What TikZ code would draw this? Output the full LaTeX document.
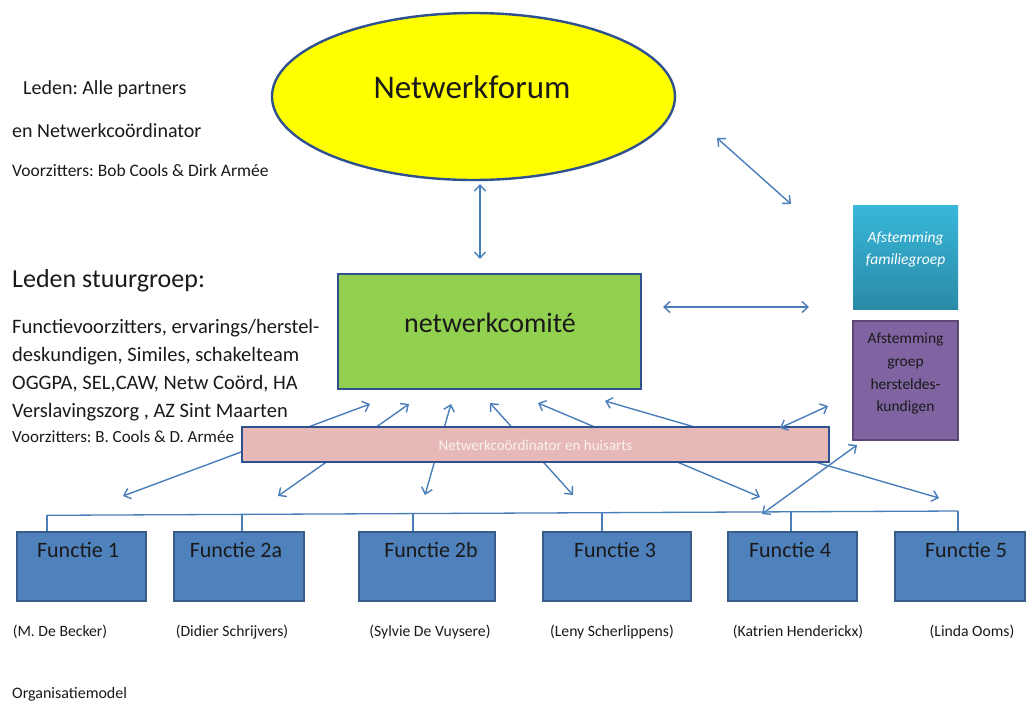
\documentclass[tikz,border=0pt]{standalone}
\usepackage{fontspec}
\setmainfont{Carlito}
\usetikzlibrary{shapes.geometric,arrows.meta}
\frenchspacing

\definecolor{linkblue}{HTML}{4A7EBB}
\definecolor{edgeblue}{HTML}{2F528F}
\definecolor{forumyellow}{HTML}{FFFF00}
\definecolor{comitegreen}{HTML}{92D050}
\definecolor{barpink}{HTML}{E6B9B8}
\definecolor{bartext}{HTML}{FBF1F1}
\definecolor{boxblue}{HTML}{4F81BD}
\definecolor{boxedge}{HTML}{385D8A}
\definecolor{famtop}{HTML}{38B7DA}
\definecolor{fambottom}{HTML}{2A8AA6}
\definecolor{herstelpurple}{HTML}{8064A2}
\definecolor{hersteledge}{HTML}{5C4776}
\definecolor{inktext}{HTML}{1A1A1A}

\newcommand{\setfs}[1]{\fontsize{#1}{#1}\selectfont}

\begin{document}
\begin{tikzpicture}[x=1pt,y=-1pt,
  link/.style={draw=linkblue, line width=1.4pt,
    {Straight Barb[length=6pt,width=11pt]}-{Straight Barb[length=6pt,width=11pt]}},
  stub/.style={draw=linkblue, line width=1.3pt},
  txt/.style={anchor=base west, inner sep=0pt, text=inktext},
  ctxt/.style={anchor=base, inner sep=0pt, text=inktext},
  functie/.style={draw=boxedge, fill=boxblue, line width=1.8pt,
    minimum height=69pt, inner sep=0pt},
  smallbox/.style={minimum width=105pt, inner sep=0pt},
]
% canvas
\fill[white] (0,0) rectangle (1029,702);
\useasboundingbox (0,0) rectangle (1029,702);

% ---------- forum ----------
\node[ellipse, draw=edgeblue, fill=forumyellow, line width=2.4pt,
      minimum width=403pt, minimum height=167pt, inner sep=0pt] (forum) at (473.5,96.5) {};
\node[ctxt, font=\setfs{33}] (forumtxt) at (472,98) {Netwerkforum};

% ---------- left-hand notes ----------
\node[txt, font=\setfs{20}] (leden) at (23,94) {Leden: Alle partners};
\node[txt, font=\setfs{20}] (ledenb) at (12,137) {en Netwerkcoördinator};
\node[txt, font=\setfs{17.5}] (vz1) at (12,176) {Voorzitters: Bob Cools \& Dirk Armée};

\node[txt, font=\setfs{26}] (stuur) at (12,287) {Leden stuurgroep:};
\node[txt, font=\setfs{20.5}] (st1) at (12,333) {Functievoorzitters, ervarings/herstel-};
\node[txt, font=\setfs{20.5}] (st2) at (12,361) {deskundigen, Similes, schakelteam};
\node[txt, font=\setfs{20.5}] (st3) at (12,389) {OGGPA, SEL,CAW, Netw Coörd, HA};
\node[txt, font=\setfs{20.5}] (st4) at (12,417) {Verslavingszorg , AZ Sint Maarten};
\node[txt, font=\setfs{17}] (vz2) at (12,442) {Voorzitters: B. Cools \& D. Armée};

% ---------- comité ----------
\node[draw=edgeblue, fill=comitegreen, line width=2.2pt,
      minimum width=303pt, minimum height=115pt, inner sep=0pt] (comite) at (489.5,331.5) {};
\node[ctxt, font=\setfs{28}] (comitetxt) at (490,332) {netwerkcomité};

% ---------- right-hand groups ----------
\node[smallbox, top color=famtop, bottom color=fambottom,
      minimum height=104pt] (familie) at (905.5,257) {};
\node[ctxt, text=white, font=\setfs{15.5}\itshape] (fam1) at (905.5,242) {Afstemming};
\node[ctxt, text=white, font=\setfs{15.5}\itshape] (fam2) at (905.5,264) {familiegroep};

\node[smallbox, draw=hersteledge, fill=herstelpurple, line width=1.6pt,
      minimum height=119pt] (herstel) at (905.5,380.5) {};
\node[ctxt, font=\setfs{15.5}] (h1) at (905.5,343) {Afstemming};
\node[ctxt, font=\setfs{15.5}] (h2) at (905.5,366) {groep};
\node[ctxt, font=\setfs{15.5}] (h3) at (905.5,389) {hersteldes-};
\node[ctxt, font=\setfs{15.5}] (h4) at (905.5,411) {kundigen};

% ---------- arrow end points ----------
\coordinate (fa) at (480,184);   \coordinate (fb) at (480,259);
\coordinate (ra) at (717,138);   \coordinate (rb) at (791,204);
\coordinate (ha) at (663,307);   \coordinate (hb) at (809,307);

\coordinate (u1) at (370,404);   \coordinate (d1) at (123,496);
\coordinate (u2) at (409,404);   \coordinate (d2) at (278,496);
\coordinate (u3) at (451,404);   \coordinate (d3) at (425,495);
\coordinate (u4) at (490,403);   \coordinate (d4) at (573,495);
\coordinate (u5) at (538,403);   \coordinate (d5) at (760,497);
\coordinate (u6) at (605,401);   \coordinate (d6) at (939,498);
\coordinate (u7) at (828,406);   \coordinate (d7) at (780,428);
\coordinate (u8) at (857,445);   \coordinate (d8) at (762,514);

\draw[link] (fa) -- (fb);
\draw[link] (ra) -- (rb);
\draw[link] (ha) -- (hb);

% arrows between the comité and the functions, passing behind the bar
\foreach \i in {1,...,6} {
  \draw[link] (u\i) -- (d\i);
}

% ---------- coordinator bar ----------
\node[draw=edgeblue, fill=barpink, line width=2.4pt,
      minimum width=587pt, minimum height=35pt, inner sep=0pt] (bar) at (535.5,444.5) {};
\node[ctxt, text=bartext, font=\setfs{15}] (bartxt) at (535.5,450) {Netwerkcoördinator en huisarts};

\draw[link] (u7) -- (d7);

% ---------- function boxes ----------
\node[functie, minimum width=129pt] (f1) at (81.5,566.5) {};
\node[functie, minimum width=130pt] (f2a) at (239,566.5) {};
\node[functie, minimum width=136pt] (f2b) at (427,566.5) {};
\node[functie, minimum width=148pt] (f3) at (617,566.5) {};
\node[functie, minimum width=129pt] (f4) at (792.5,566.5) {};
\node[functie, minimum width=130pt] (f5) at (960,566.5) {};

\node[ctxt, font=\setfs{22}] at (78,557) {Functie 1};
\node[ctxt, font=\setfs{22}] at (236,557) {Functie 2a};
\node[ctxt, font=\setfs{22}] at (431,557) {Functie 2b};
\node[ctxt, font=\setfs{22}] at (615,557) {Functie 3};
\node[ctxt, font=\setfs{22}] at (790,557) {Functie 4};
\node[ctxt, font=\setfs{22}] at (966,557) {Functie 5};

% distribution line above the functions
\coordinate (s1) at (47,515.3);
\coordinate (s2) at (242,514.4);
\coordinate (s3) at (413,513.5);
\coordinate (s4) at (602,512.6);
\coordinate (s5) at (791,511.8);
\coordinate (s6) at (958,511);
\draw[stub] (s1) -- (s6);
\draw[stub] (s1) -- (s1 |- f1.north);
\draw[stub] (s2) -- (s2 |- f2a.north);
\draw[stub] (s3) -- (s3 |- f2b.north);
\draw[stub] (s4) -- (s4 |- f3.north);
\draw[stub] (s5) -- (s5 |- f4.north);
\draw[stub] (s6) -- (s6 |- f5.north);

\draw[link] (u8) -- (d8);

% ---------- names ----------
\node[ctxt, font=\setfs{15.7}] at (60,636) {(M. De Becker)};
\node[ctxt, font=\setfs{15.7}] at (232,636) {(Didier Schrijvers)};
\node[ctxt, font=\setfs{15.7}] at (430,636) {(Sylvie De Vuysere)};
\node[ctxt, font=\setfs{15.7}] at (612,636) {(Leny Scherlippens)};
\node[ctxt, font=\setfs{15.7}] at (798,636) {(Katrien Henderickx)};
\node[ctxt, font=\setfs{15.7}] at (972,636) {(Linda Ooms)};

\node[txt, font=\setfs{16}] (caption) at (12,698) {Organisatiemodel};
\end{tikzpicture}
\end{document}
